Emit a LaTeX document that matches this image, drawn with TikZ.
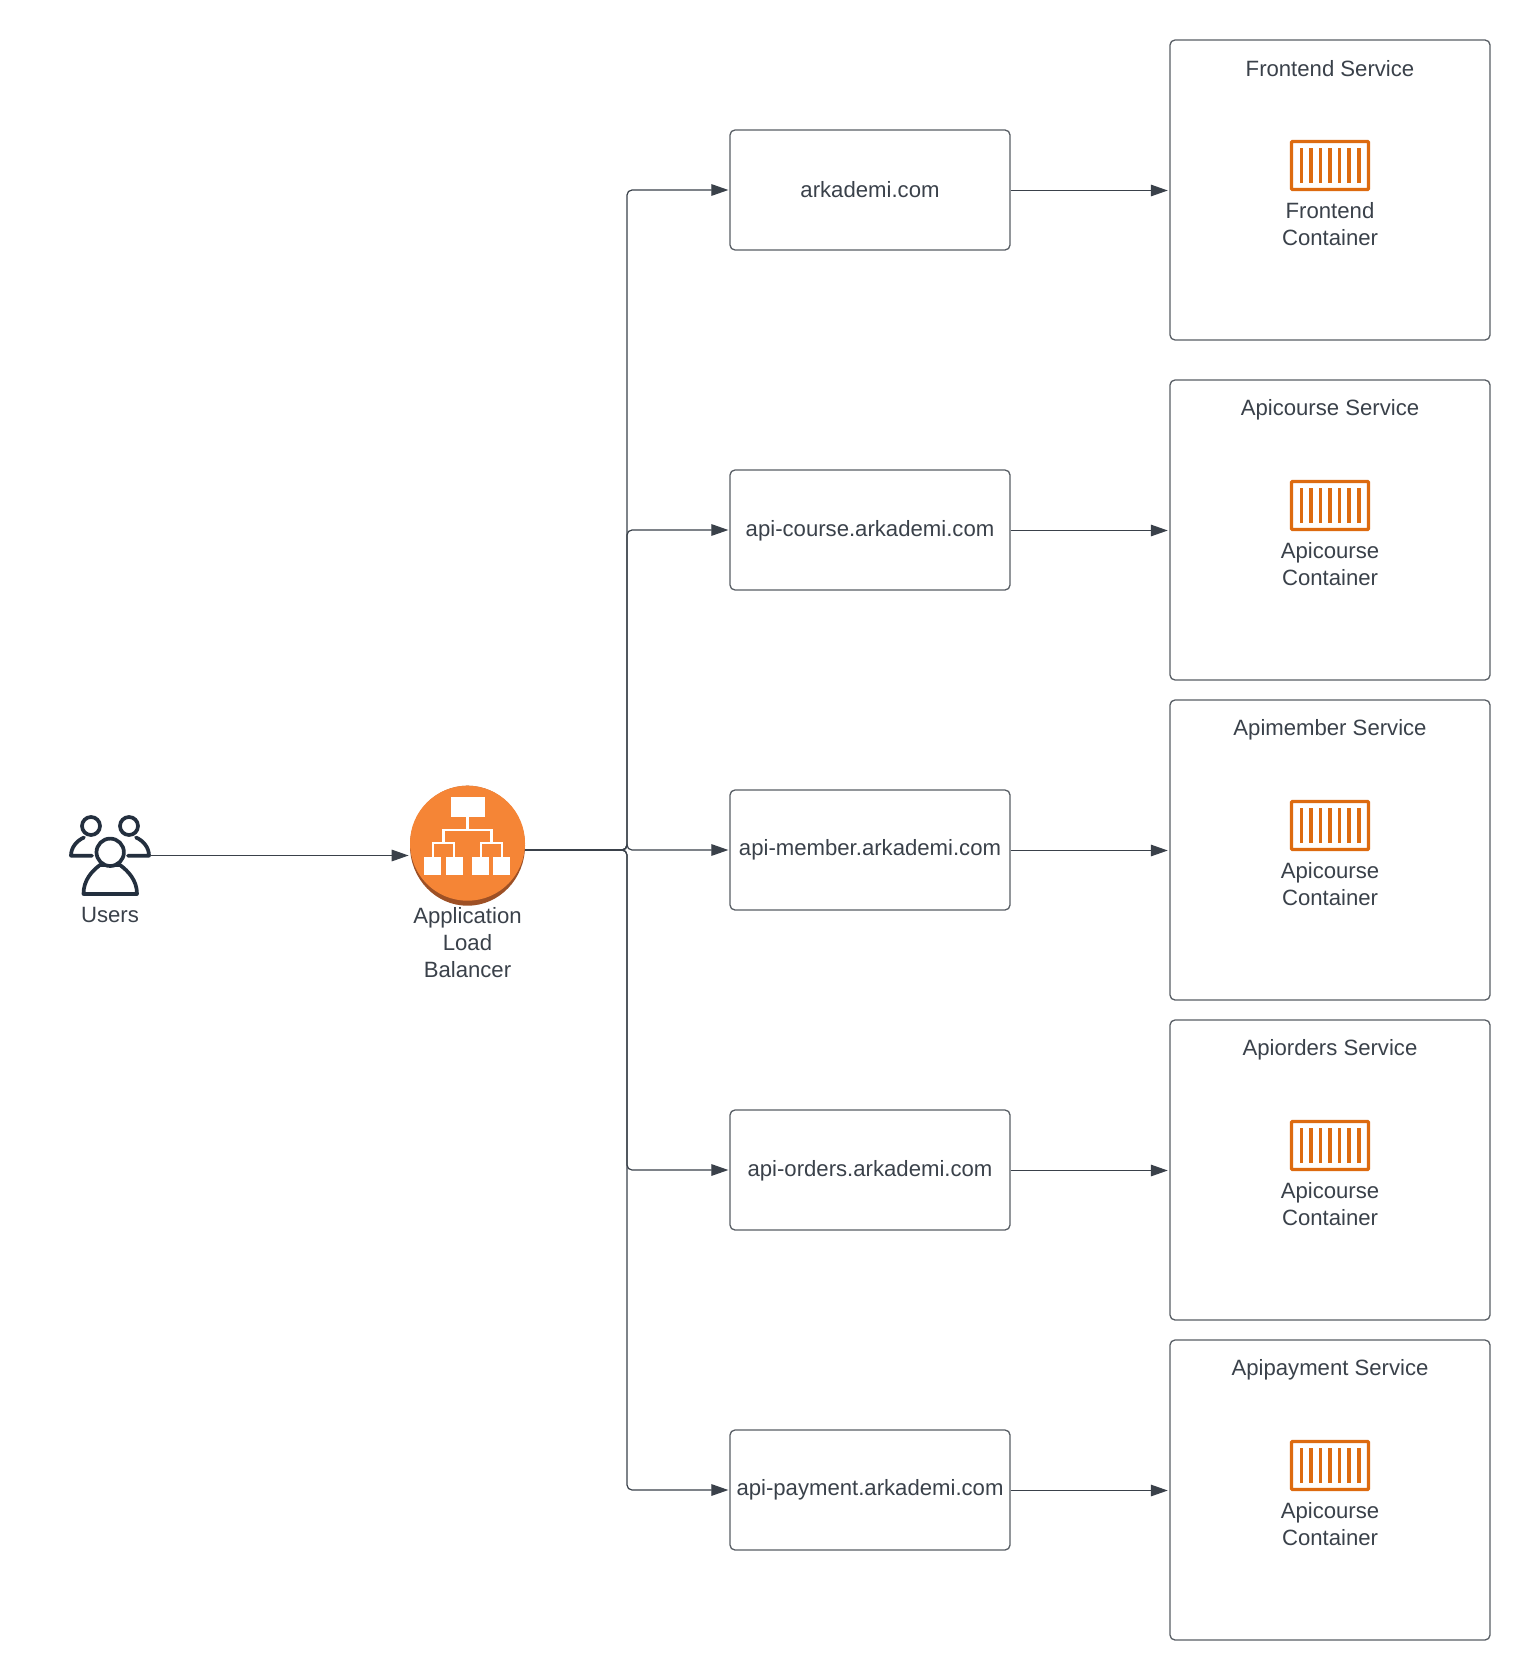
\documentclass[tikz,border=0pt]{standalone}
\usepackage{fontspec}
\setmainfont{Liberation Sans}
\usetikzlibrary{arrows.meta,shapes.geometric}
\definecolor{ink}{HTML}{3A414A}
\definecolor{navy}{HTML}{232F3E}
\definecolor{albface}{HTML}{F58536}
\definecolor{albdark}{HTML}{9D5025}
\definecolor{boxorange}{HTML}{DD6B10}
\tikzset{
  lbl/.style={font=\fontsize{11.07}{13.35}\selectfont,text=ink,align=center,inner sep=0pt},
  ctrtext/.style={font=\fontsize{11.07}{13.6}\selectfont,text=ink,align=center,inner sep=0pt},
  svcbox/.style={draw=ink!85,line width=0.65pt,rounded corners=2.5pt,minimum width=160pt,minimum height=150pt,inner sep=0pt},
  urlbox/.style={draw=ink!85,line width=0.65pt,rounded corners=2.5pt,minimum width=140pt,minimum height=60pt,inner sep=0pt},
  conn/.style={draw=ink,line width=0.6pt,rounded corners=2.5pt,shorten >=0.5pt,-{Triangle[length=8.5pt,width=5.8pt]}},
  person/.style={draw=navy,line width=1.85pt,line cap=round,line join=round,fill=white},
  wirewhite/.style={draw=white,line width=1.4pt},
  blockwhite/.style={fill=white,draw=none},
  crate/.style={draw=boxorange,line width=1.7pt,rounded corners=0.5pt},
  slat/.style={fill=boxorange,draw=none}
}
\begin{document}
\begin{tikzpicture}[x=0.5pt,y=-0.5pt]
\useasboundingbox (0,0) rectangle (1530,1680);
\fill[white] (0,0) rectangle (1530,1680);

% Users icon
\node[minimum width=40pt,minimum height=30pt,inner sep=0pt] (users) at (110,855.5) {};
\begin{scope}
\draw[person,fill=none] (92,855.7) -- (71,855.7) .. controls (71,848) and (76,841) .. (84,837.5);
\draw[person,fill=none] (128,855.7) -- (149,855.7) .. controls (149,848) and (144,841) .. (136,837.5);
\draw[person] (91,826) circle [radius=9];
\draw[person] (129,826) circle [radius=9];
\draw[person] (83.5,894) .. controls (83.5,880) and (92,871) .. (100,865) -- (120,865) .. controls (128,871) and (137,880) .. (137,894) -- cycle;
\draw[person] (110.2,852.3) circle [radius=13.7];
\end{scope}
\node[lbl] (userslbl) at (110,915) {Users};

% Load balancer
\node[ellipse,fill=albdark,minimum width=57.5pt,minimum height=60pt,inner sep=0pt] (alb) at (467.5,845.7) {};
\fill[albface] (467.5,843.2) ellipse [x radius=57.5,y radius=57.5];
\fill[blockwhite] (450.5,796.7) rectangle (484.7,817.3);
\draw[wirewhite] (467.5,817) -- (467.5,830);
\draw[wirewhite] (443.5,843) -- (443.5,830) -- (491.5,830) -- (491.5,843);
\draw[wirewhite] (433,857) -- (433,843) -- (454,843) -- (454,857);
\draw[wirewhite] (481,857) -- (481,843) -- (502,843) -- (502,857);
\fill[blockwhite] (424,856.5) rectangle (441,874.5);
\fill[blockwhite] (445.5,856.5) rectangle (462.5,874.5);
\fill[blockwhite] (471.5,856.5) rectangle (488.5,874.5);
\fill[blockwhite] (493,856.5) rectangle (510,874.5);
\node[lbl] (alblbl) at (467.5,942.7) {Application\\Load\\Balancer};

\draw[conn] (users.east) -- (alb.west |- users.east);

\coordinate (albout) at (525,850);
\coordinate (bus) at (627,850);

\foreach \i/\cy/\dy/\ty/\url/\title/\cont in {
  1/190/0/-121/arkademi.com/Frontend Service/Frontend,
  2/530/1/-120/api-course.arkademi.com/Apicourse Service/Apicourse,
  3/850/0/-120/api-member.arkademi.com/Apimember Service/Apicourse,
  4/1170/1/-120/api-orders.arkademi.com/Apiorders Service/Apicourse,
  5/1490/-0.5/-120/api-payment.arkademi.com/Apipayment Service/Apicourse}
{
  \node[urlbox] (url\i) at (870,\cy) {};
  \node[lbl] (urltxt\i) at (870,\cy+\dy) {\url};
  \node[svcbox] (svc\i) at (1330,\cy) {};
  \node[lbl] (title\i) at (1330,\cy+\ty) {\title};
  \draw[crate] (1291.5,\cy-48.5) rectangle (1368.5,\cy-0.5);
  \foreach \sx in {1301.3,1310.9,1320.5,1330,1339.6,1349.2,1358.8}
    \fill[slat] (\sx-1.8,\cy-42) rectangle (\sx+1.8,\cy-6.7);
  \node[ctrtext] (ctrlbl\i) at (1330,\cy+33.9) {\cont\\Container};
  \draw[conn,shorten >=0.8pt] ([yshift=-0.25pt]url\i.east) -- ([yshift=-0.25pt]svc\i.west);
  \draw[conn] (albout) -- (bus) -- (bus |- url\i.west) -- (url\i.west);
}
\end{tikzpicture}
\end{document}
